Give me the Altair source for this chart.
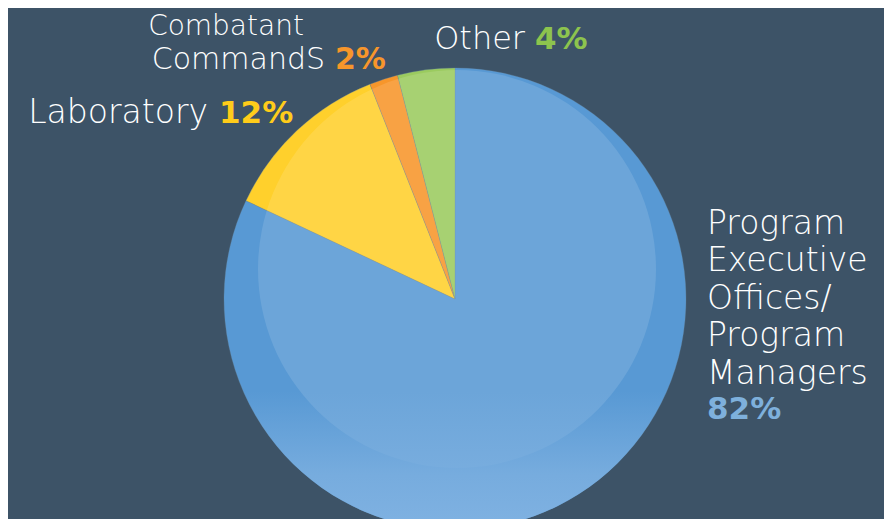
import altair as alt
import pandas as pd

categories = ["Program Executive Offices/ Program Managers", "Laboratory", "Combatant CommandS", "Other"]
values = [82, 12, 2, 4]
order = [0, 1, 2, 3]
slice_colors = ["#5899d4", "#ffd02c", "#f7962b", "#9bcb5f"]
pct_colors = ["#7eb0dc", "#ffcc1a", "#f7962b", "#8dc44e"]

df = pd.DataFrame({
    "category": categories,
    "value": values,
    "order": order,
    "fillc": slice_colors,
})

BG = "#3d5367"
CX, CY = 447, 291          # pie centre (chart coords)
R_OUT = 231
HX, HY, R_HI = 449, 261, 199   # light highlight disc

base = alt.Chart(df).transform_window(
    cum="sum(value)", sort=[alt.SortField("order")], frame=[None, 0]
).transform_calculate(start="datum.cum - datum.value").encode(
    theta=alt.Theta("start:Q", scale=alt.Scale(domain=[0, 100])),
    theta2="cum:Q",
)

wedges = base.mark_arc(radius=R_OUT, stroke="#6a8aa6", strokeWidth=0.3).encode(
    x=alt.value(CX), y=alt.value(CY),
    color=alt.Color("fillc:N", scale=None),
)

highlight = alt.Chart(df.head(1)).mark_arc(
    radius=R_HI, theta=0, theta2=6.2832, fill="#ffffff", opacity=0.12,
).encode(x=alt.value(HX), y=alt.value(HY))

shade = base.transform_filter("datum.order == 0").mark_arc(
    radius=R_OUT,
    fill=alt.LinearGradient(
        gradient="linear", x1=0, x2=0, y1=0, y2=1,
        stops=[
            alt.GradientStop(color="rgba(122,174,223,0)", offset=0),
            alt.GradientStop(color="rgba(122,174,223,0)", offset=0.70),
            alt.GradientStop(color="rgba(122,174,223,0.9)", offset=0.88),
            alt.GradientStop(color="rgba(128,178,226,1)", offset=1),
        ],
    ),
).encode(x=alt.value(CX), y=alt.value(CY))

FONT = "DejaVu Sans"


def txt(text, x, y, color, align="left", weight=200, size=31, linebreak=False):
    kwargs = dict(align=align, baseline="alphabetic", font=FONT, fontSize=size,
                  fontWeight=weight, color=color)
    if linebreak:
        kwargs.update(lineBreak="\n", lineHeight=37.4)
    return alt.Chart(pd.DataFrame({"t": [text]})).mark_text(**kwargs).encode(
        x=alt.value(x - 8), y=alt.value(y - 8), text="t:N"
    )


W = "#ffffff"
right_label = categories[0].replace("/ ", "/\n").replace("Executive ", "Executive\n").replace("Program ", "Program\n")
comb1, comb2 = categories[2].split(" ")
texts = [
    txt(comb1, 226, 35, W, "center", 200, 28),
    txt(comb2, 325, 69, W, "right", 200, 30),
    txt(f"{values[2]}%", 335, 69, pct_colors[2], "left", "bold", 30),
    txt(categories[3], 525, 49, W, "right", 200, 32),
    txt(f"{values[3]}%", 535, 49, pct_colors[3], "left", "bold", 31),
    txt(categories[1], 208, 123, W, "right", 200, 33),
    txt(f"{values[1]}%", 219, 123, pct_colors[1], "left", "bold", 31),
    txt(right_label, 707, 234, W, "left", 200, 33, True),
    txt(f"{values[0]}%", 707, 419, pct_colors[0], "left", "bold", 31),
]

chart = alt.layer(wedges, highlight, shade, *texts).properties(
    width=876, height=511, padding=0, background=BG,
    autosize=alt.AutoSizeParams(type="none"),
).configure_view(stroke=None)

chart.save("out.html", embed_options={"renderer": "svg", "actions": False})
